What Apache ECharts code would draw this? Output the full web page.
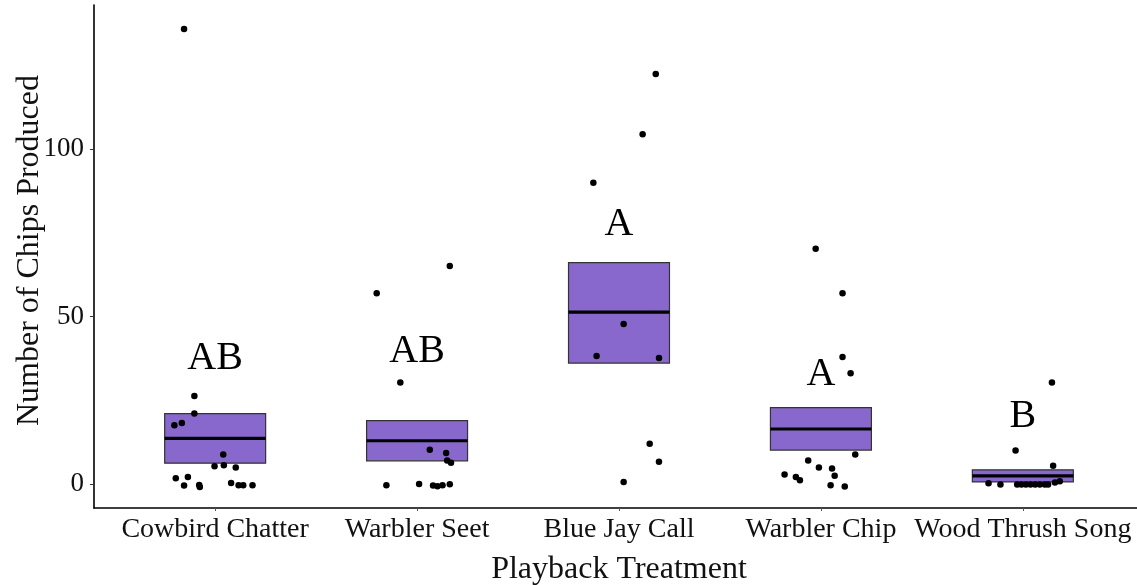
<!DOCTYPE html>
<html>
<head>
<meta charset="utf-8">
<script src="https://cdn.jsdelivr.net/npm/echarts@6/dist/echarts.min.js"></script>
<style>html,body{margin:0;padding:0;background:#fff;}#c{width:1137px;height:585px;}</style>
</head>
<body>
<div id="c"></div>
<script>
// ---- data ----
const categories = ['Cowbird Chatter', 'Warbler Seet', 'Blue Jay Call', 'Warbler Chip', 'Wood Thrush Song'];
const yTicks = [0, 50, 100];

// crossbar (box) values per category
const boxLower  = [6.2, 6.9, 36.1, 10.1, 0.6];
const boxMedian = [13.6, 12.9, 51.3, 16.4, 2.4];
const boxUpper  = [21.0, 18.9, 66.1, 22.8, 4.2];

// significance letters
const letters  = ['AB', 'AB', 'A', 'A', 'B'];
const letterY  = [37.5, 39.7, 77.4, 32.6, 20.0];

// jittered observations (value, horizontal jitter offset)
const cowbirdValues = [135.9, 26.3, 21.0, 17.5, 18.2, 8.8, 5.3, 5.6, 4.9, 1.7, 2.1, -0.5, -0.3, -0.9, 0.3, -0.4, -0.4, -0.4];
const cowbirdJitter = [-0.154, -0.103, -0.103, -0.202, -0.165, 0.040, -0.003, 0.043, 0.102, -0.195, -0.135, -0.154, -0.079, -0.076, 0.079, 0.116, 0.139, 0.185];
const seetValues = [65.1, 57.0, 30.3, 10.2, 9.2, 7.0, 6.3, -0.4, 0.0, -0.5, -0.7, -0.4, -0.1];
const seetJitter = [0.162, -0.200, -0.083, 0.063, 0.144, 0.149, 0.168, -0.152, 0.010, 0.079, 0.101, 0.126, 0.162];
const blueJayValues = [122.5, 104.5, 90.0, 47.8, 38.2, 37.6, 12.0, 6.6, 0.6];
const blueJayJitter = [0.182, 0.117, -0.127, 0.023, -0.111, 0.198, 0.152, 0.198, 0.023];
const chipValues = [70.3, 57.0, 37.9, 33.1, 8.8, 7.0, 4.9, 4.6, 2.8, 2.1, 1.1, 2.4, -0.4, -0.8];
const chipJitter = [-0.026, 0.107, 0.107, 0.147, 0.170, -0.063, -0.010, 0.055, -0.180, -0.124, -0.104, 0.068, 0.048, 0.118];
const thrushValues = [30.3, 10.0, 5.4, 0.2, -0.2, -0.2, -0.2, -0.2, -0.2, -0.2, -0.2, -0.2, -0.2, 0.4, 0.8];
const thrushJitter = [0.144, -0.036, 0.150, -0.170, -0.111, -0.028, -0.007, 0.015, 0.038, 0.061, 0.084, 0.109, 0.125, 0.159, 0.183];

// ---- build ----
const groups = [
  [cowbirdValues, cowbirdJitter],
  [seetValues, seetJitter],
  [blueJayValues, blueJayJitter],
  [chipValues, chipJitter],
  [thrushValues, thrushJitter]
];
const points = [];
groups.forEach(function (g, i) {
  g[0].forEach(function (v, k) { points.push([i + g[1][k], v]); });
});
const boxData = categories.map(function (c, i) { return [i, boxLower[i], boxMedian[i], boxUpper[i]]; });
const letterData = categories.map(function (c, i) { return [i, letterY[i], letters[i]]; });

const serif = "'Liberation Serif', 'DejaVu Serif', serif";
const BOX_HALF = 0.25;

const chart = echarts.init(document.getElementById('c'), null, { renderer: 'canvas' });
chart.setOption({
  animation: false,
  backgroundColor: '#ffffff',
  grid: { left: 94, top: 5, width: 1050, height: 503, containLabel: false, outerBoundsMode: 'none' },
  xAxis: {
    type: 'value', min: -0.6, max: 4.6,
    splitLine: { show: false },
    axisLine: { show: true, onZero: false, lineStyle: { color: '#000', width: 1.6 } },
    axisTick: { show: true, customValues: [0, 1, 2, 3, 4], length: 3, lineStyle: { color: '#555', width: 1 } },
    axisLabel: {
      customValues: [0, 1, 2, 3, 4],
      formatter: function (v) { return categories[Math.round(v)]; },
      fontFamily: serif, fontSize: 28, color: '#111', margin: 8
    },
    name: 'Playback Treatment', nameLocation: 'middle', nameGap: 46,
    nameTextStyle: { fontFamily: serif, fontSize: 32, color: '#111' }
  },
  yAxis: {
    type: 'value', min: -7.2, max: 143.1,
    splitLine: { show: false },
    axisLine: { show: true, onZero: false, lineStyle: { color: '#000', width: 1.6 } },
    axisTick: { show: true, customValues: yTicks, length: 4, lineStyle: { color: '#333', width: 1 } },
    axisLabel: {
      customValues: yTicks,
      fontFamily: serif, fontSize: 27, color: '#111', margin: 10
    },
    name: 'Number of Chips Produced', nameLocation: 'middle', nameGap: 48, nameRotate: 90,
    nameMoveOverlap: false,
    nameTextStyle: { fontFamily: serif, fontSize: 32, color: '#111', padding: [0, 0, 0, 12] }
  },
  series: [
    {
      type: 'custom',
      data: boxData,
      z: 2,
      renderItem: function (params, api) {
        const x = api.value(0);
        const p1 = api.coord([x - BOX_HALF, api.value(3)]);
        const p2 = api.coord([x + BOX_HALF, api.value(1)]);
        const m1 = api.coord([x - BOX_HALF, api.value(2)]);
        const m2 = api.coord([x + BOX_HALF, api.value(2)]);
        return {
          type: 'group',
          children: [
            { type: 'rect', shape: { x: p1[0], y: p1[1], width: p2[0] - p1[0], height: p2[1] - p1[1] },
              style: { fill: '#8968CD', stroke: '#333333', lineWidth: 1.2 } },
            { type: 'line', shape: { x1: m1[0], y1: m1[1], x2: m2[0], y2: m2[1] },
              style: { stroke: '#000', lineWidth: 3.2 } }
          ]
        };
      }
    },
    {
      type: 'scatter',
      data: points,
      z: 3,
      symbol: 'circle',
      symbolSize: 6.5,
      itemStyle: { color: '#000', opacity: 1 }
    },
    {
      type: 'custom',
      data: letterData,
      z: 4,
      renderItem: function (params, api) {
        const p = api.coord([api.value(0), api.value(1)]);
        return {
          type: 'text',
          x: p[0], y: p[1],
          style: { text: letters[params.dataIndex], fontFamily: serif, fontSize: 40, fill: '#000', align: 'center', verticalAlign: 'middle' }
        };
      }
    }
  ]
});
</script>
</body>
</html>
